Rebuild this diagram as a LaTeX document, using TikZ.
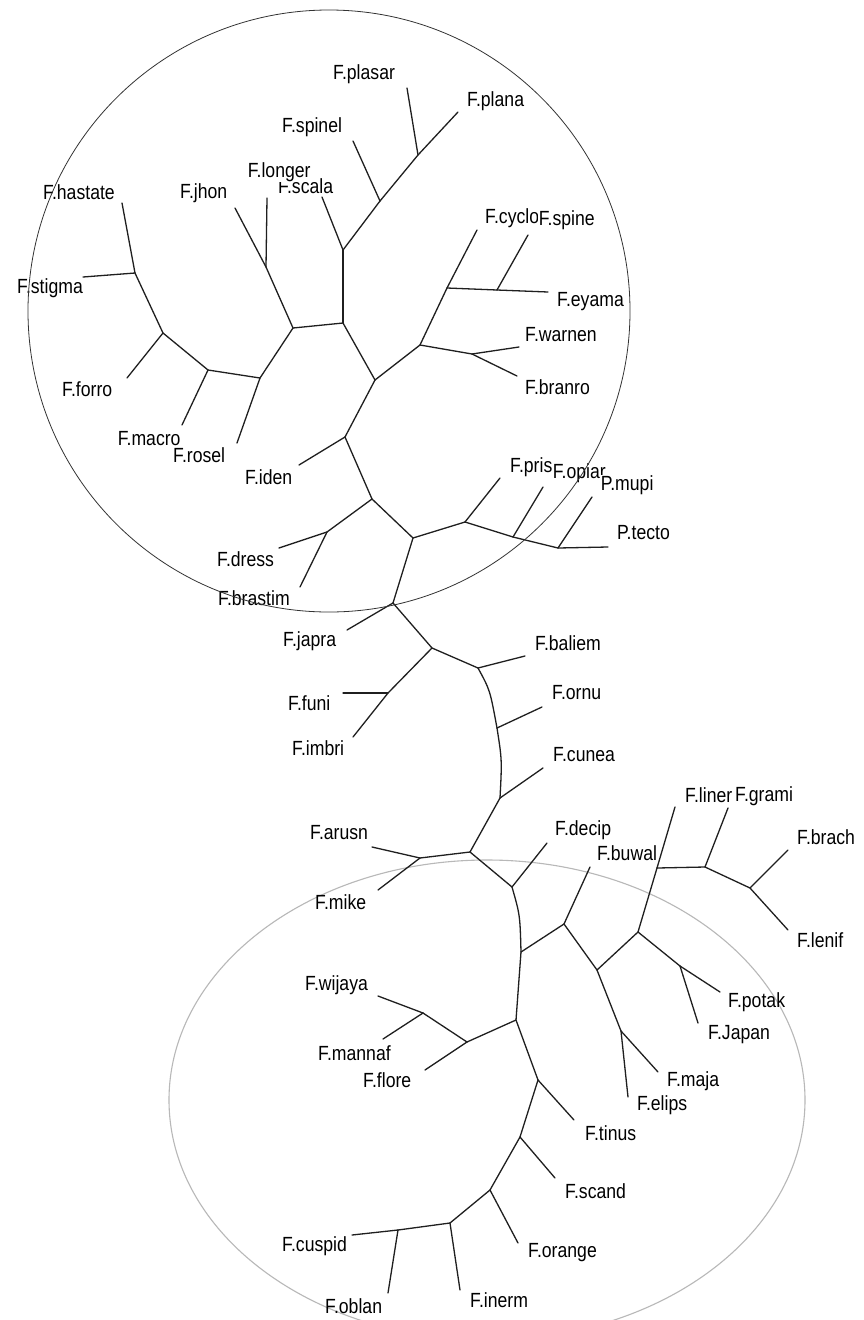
\documentclass[tikz,border=0pt]{standalone}
\usepackage{fontspec}
\setmainfont{Liberation Sans}[FakeStretch=0.86]
\begin{document}
\begin{tikzpicture}[x=1pt,y=-1pt,
  branch/.style={line width=1.3pt,black!88,line cap=round,line join=round},
  lab/.style={anchor=west,inner sep=0pt,font=\fontsize{20.5}{20.5}\selectfont},
  labw/.style={lab,fill=white,inner sep=0.6pt}]
\fill[white] (0,0) rectangle (864,1320);
\useasboundingbox (0,0) rectangle (864,1320);
% internal nodes
\foreach \n/\x/\y in {A1/135/273,A2/163/333,A3/208/370,A4/260/378,A5/293/328,B1/266/267,
  A6/343/323,C1/343/250,C2/380/201,C3/418/155,A7/375/380,D1/420/345,D2/447/288,D3/497/290,
  D4/472/354,A8/345/437,A9/372/499,A10/327/532,A11/413/538,E1/465/522,E2/513/537,E3/558/548,
  R1/393/603,F1/432/648,F2/388/693,F3/478/668,F4/497/728,F5/500/798,F6/470/852,G1/420/858,
  H1/512/887,H2/521/952,I1/564/924,I2/597/970,I3/621/1031,I4/638/932,I5/680/966,J1/657/868,
  J2/705/867,J3/750/888,K1/516/1020,K2/467/1042,K3/423/1013,L1/538/1080,L2/520/1137,
  L3/490/1190,L4/450/1223,L5/398/1230}
  \coordinate (\n) at (\x,\y);
% leaf tips
\foreach \n/\x/\y in {hastate/122/203,stigma/83/277,forro/127/378,macro/182/425,rosel/237/443,
  jhon/235/208,longer/267/198,ala/322/197,spinel/353/141,plasar/407/88,plana/458/112,
  cyclo/477/230,spine/528/235,eyama/548/292,warnen/519/347,branro/517/376,iden/299/465,
  dress/279/548,brastim/300/587,pris/500/478,opiar/543/487,mupi/592/497,tecto/608/547,
  japra/347/630,funi/343/693,imbri/353/737,baliem/525/656,ornu/542/707,cunea/543/768,
  arusn/372/847,mike/378/890,decip/547/843,buwal/590/867,maja/658/1072,elips/628/1097,
  potak/720/992,japan/698/1023,liner/675/807,grami/728/808,brach/788/850,lenif/788/930,
  wijaya/378/996,mannaf/383/1039,flore/425/1070,tinus/574/1120,scand/555/1178,
  orange/518/1243,inerm/460/1290,cuspid/352/1235,oblan/388/1293}
  \coordinate (t\n) at (\x,\y);
% lower grey ellipse
\draw[black!28,line width=1.1pt] (487,1100) ellipse [x radius=318pt, y radius=240pt];
% branches
\foreach \a/\b in {A1/thastate,A1/tstigma,A1/A2,A2/tforro,A2/A3,A3/tmacro,A3/A4,A4/trosel,
  A4/A5,A5/B1,B1/tjhon,B1/tlonger,A5/A6,A6/C1,C1/tala,C1/C2,C2/tspinel,C2/C3,C3/tplasar,
  C3/tplana,A6/A7,A7/D1,D1/D2,D2/tcyclo,D2/D3,D3/tspine,D3/teyama,D1/D4,D4/twarnen,
  D4/tbranro,A7/A8,A8/tiden,A8/A9,A9/A10,A10/tdress,A10/tbrastim,A9/A11,A11/E1,E1/tpris,
  E1/E2,E2/topiar,E2/E3,E3/tmupi,E3/ttecto,A11/R1,R1/tjapra,R1/F1,F1/F2,F2/tfuni,F2/timbri,
  F1/F3,F3/tbaliem,F4/tornu,F5/tcunea,F5/F6,F6/G1,G1/tarusn,G1/tmike,F6/H1,
  H1/tdecip,H2/I1,I1/tbuwal,I1/I2,I2/I3,I3/tmaja,I3/telips,I2/I4,I4/I5,I5/tpotak,
  I5/tjapan,I4/J1,J1/tliner,J1/J2,J2/tgrami,J2/J3,J3/tbrach,J3/tlenif,H2/K1,K1/K2,K2/K3,
  K3/twijaya,K3/tmannaf,K2/tflore,K1/L1,L1/ttinus,L1/L2,L2/tscand,L2/L3,L3/torange,L3/L4,
  L4/tinerm,L4/L5,L5/tcuspid,L5/toblan}
  \draw[branch] (\a) -- (\b);
\draw[branch] (F3) .. controls (490,690) .. (F4);
\draw[branch] (F4) .. controls (502,760) .. (F5);
\draw[branch] (H1) .. controls (520,915) .. (H2);
% labels
\node[lab] (lhastate) at (43,192) {F.hastate};
\node[lab] (lstigma) at (17,288) {F.stigma};
\node[lab] (lforro) at (62,389) {F.forro};
\node[lab] (lrosel) at (173,455) {F.rosel};
\node[labw] (lmacro) at (117,439) {F.macro};
\node[lab] (liden) at (245,477) {F.iden};
\node[lab] (ldress) at (217,559) {F.dress};
\node[lab] (lbrastim) at (218,598) {F.brastim};
\node[lab] (ljhon) at (180,193) {F.jhon};
\node[lab] (lala) at (278,186) {F.scala};
\node[labw] (llonger) at (247,172) {F.longer};
\node[lab] (lspinel) at (282,127) {F.spinel};
\node[lab] (lplasar) at (333,74) {F.plasar};
\node[lab] (lplana) at (467,101) {F.plana};
\node[lab] (lcyclo) at (485,218) {F.cyclo};
\node[labw] (lspine) at (538,220) {F.spine};
\node[lab] (leyama) at (557,302) {F.eyama};
\node[lab] (lwarnen) at (525,335) {F.warnen};
\node[lab] (lbranro) at (525,387) {F.branro};
\node[lab] (lpris) at (510,467) {F.pris};
\node[labw] (lopiar) at (552,473) {F.opiar};
\node[labw] (lmupi) at (600,485) {P.mupi};
\node[lab] (ltecto) at (617,533) {P.tecto};
\node[lab] (ljapra) at (283,641) {F.japra};
\node[lab] (lbaliem) at (535,643) {F.baliem};
\node[lab] (lfuni) at (288,703) {F.funi};
\node[lab] (limbri) at (292,748) {F.imbri};
\node[lab] (lornu) at (552,693) {F.ornu};
\node[lab] (lcunea) at (553,755) {F.cunea};
\node[lab] (larusn) at (310,833) {F.arusn};
\node[lab] (lmike) at (315,902) {F.mike};
\node[lab] (ldecip) at (555,830) {F.decip};
\node[lab] (lbuwal) at (597,853) {F.buwal};
\node[lab] (lliner) at (685,795) {F.liner};
\node[lab] (lgrami) at (735,796) {F.grami};
\node[lab] (lbrach) at (797,837) {F.brach};
\node[lab] (llenif) at (797,940) {F.lenif};
\node[lab] (lpotak) at (728,1002) {F.potak};
\node[lab] (ljapan) at (708,1035) {F.Japan};
\node[lab] (lmaja) at (667,1081) {F.maja};
\node[lab] (lelips) at (637,1105) {F.elips};
\node[lab] (ltinus) at (585,1133) {F.tinus};
\node[lab] (lscand) at (565,1191) {F.scand};
\node[lab] (lorange) at (528,1253) {F.orange};
\node[lab] (linerm) at (470,1300) {F.inerm};
\node[lab] (loblan) at (325,1306) {F.oblan};
\node[lab] (lcuspid) at (282,1246) {F.cuspid};
\node[lab] (lwijaya) at (305,985) {F.wijaya};
\node[lab] (lmannaf) at (318,1053) {F.mannaf};
\node[lab] (lflore) at (363,1080) {F.flore};
% upper circle
\draw[black!80,line width=0.8pt] (329,311) circle (301pt);
\end{tikzpicture}
\end{document}
